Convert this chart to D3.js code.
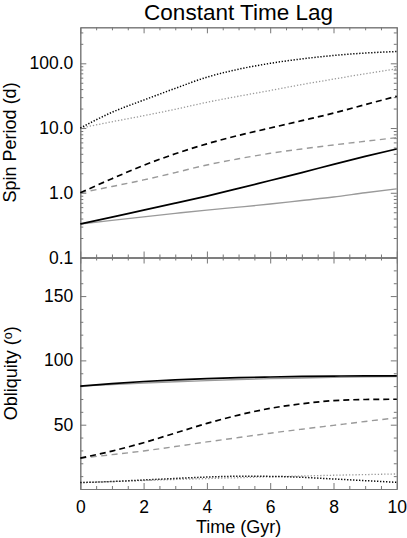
<!DOCTYPE html>
<html>
<head>
<meta charset="utf-8">
<script src="https://cdn.jsdelivr.net/npm/d3@7"></script>
<style>
  html, body { margin: 0; padding: 0; background: #fff; }
  svg text { font-family: "Liberation Sans", Arial, Helvetica, sans-serif; fill: #000; }
</style>
</head>
<body>
<svg id="chart" width="407" height="538"></svg>
<script>
// ---- data ----
const time = [0, 1, 2, 3, 4, 5, 6, 7, 8, 9, 10];

const spinBlackDotted = [10, 17.5, 27, 41, 61, 81, 100, 117, 132, 144, 152];
const spinGrayDotted  = [10, 12.5, 15.5, 19.5, 25, 31, 38, 47, 57, 69, 82];
const spinBlackDashed = [1, 1.65, 2.65, 4.0, 5.7, 7.7, 10, 13, 17, 23, 31];
const spinGrayDashed  = [1, 1.25, 1.58, 2.05, 2.69, 3.35, 4.07, 4.75, 5.48, 6.25, 7.1];
const spinBlackSolid  = [0.33, 0.42, 0.54, 0.69, 0.89, 1.17, 1.55, 2.05, 2.75, 3.65, 4.75];
const spinGraySolid   = [0.33, 0.375, 0.425, 0.48, 0.54, 0.6, 0.67, 0.76, 0.86, 1.0, 1.15];

const oblBlackSolid  = [80, 82, 83.6, 84.8, 85.8, 86.6, 87.1, 87.5, 87.8, 88, 88];
const oblGraySolid   = [80, 81.2, 82.4, 83.4, 84.3, 85.1, 85.8, 86.3, 86.8, 87.2, 87.5];
const oblBlackDashed = [24, 29.5, 36, 43.5, 51, 57.5, 62.7, 66.3, 68.7, 69.6, 69.8];
const oblGrayDashed  = [24, 26.7, 29.6, 33, 36.6, 40, 43.4, 46.5, 49.5, 52.5, 55.4];
const oblBlackDotted = [5, 5.8, 7, 8.2, 9.3, 9.9, 9.8, 9.1, 7.8, 6.5, 5.2];
const oblGrayDotted  = [5, 5.8, 6.6, 7.4, 8.1, 8.8, 9.5, 10.1, 10.7, 11.2, 11.7];

const xMajorTicks = [0, 2, 4, 6, 8, 10];
const spinMajorTicks = [0.1, 1, 10, 100];
const oblMajorTicks = [0, 50, 100, 150];
const oblLabels = [50, 100, 150];

const titleText = "Constant Time Lag";
const xTitle = "Time (Gyr)";
const spinTitle = "Spin Period (d)";

// ---- layout ----
const L = 80.3, R = 396.8, T1 = 27.3, B1 = 257.5, B2 = 489;
const svg = d3.select("#chart");

const x = d3.scaleLinear().domain([0, 10]).range([L, R]);
const ySpin = d3.scaleLog().domain([0.1, 360]).range([B1, T1]);
const yObl = d3.scaleLinear().domain([0, 180]).range([B2, B1]);

const xMinor = d3.range(0, 10.01, 0.5).filter(v => Math.abs(v % 2) > 1e-9);
const spinMinor = [];
[0.1, 1, 10, 100].forEach(d => { for (let k = 2; k <= 9; k++) { const v = d * k; if (v <= 360) spinMinor.push(v); } });
const oblMinor = d3.range(0, 181, 10).filter(v => v % 50 !== 0);

const AX = "#777";
const fs = "17.5px";
const MAJ = 6, MIN = 3;

function styleAxis(g) {
  g.selectAll("path.domain").attr("stroke", AX).attr("stroke-width", 1);
  g.selectAll(".tick line").attr("stroke", AX).attr("stroke-width", 1);
  g.selectAll(".tick text").style("font-size", fs).attr("fill", "#000")
    .style("font-family", '"Liberation Sans", Arial, Helvetica, sans-serif');
}

function addAxis(axisFn, scale, ticks, size, transform, fmt, pad) {
  const a = axisFn(scale).tickValues(ticks).tickSizeInner(-size).tickSizeOuter(0)
    .tickFormat(fmt || (() => "")).tickPadding(pad || 6);
  const g = svg.append("g").attr("transform", transform).call(a);
  styleAxis(g);
  return g;
}

// Upper panel axes
addAxis(d3.axisLeft, ySpin, spinMajorTicks, MAJ, `translate(${L},0)`, d3.format(".1f"), 7);
addAxis(d3.axisLeft, ySpin, spinMinor, MIN, `translate(${L},0)`);
addAxis(d3.axisRight, ySpin, spinMajorTicks, MAJ, `translate(${R},0)`);
addAxis(d3.axisRight, ySpin, spinMinor, MIN, `translate(${R},0)`);
addAxis(d3.axisTop, x, xMajorTicks, MAJ, `translate(0,${T1})`);
addAxis(d3.axisTop, x, xMinor, MIN, `translate(0,${T1})`);
addAxis(d3.axisBottom, x, xMajorTicks, MAJ, `translate(0,${B1})`);
addAxis(d3.axisBottom, x, xMinor, MIN, `translate(0,${B1})`);

// Lower panel axes
addAxis(d3.axisLeft, yObl, oblMajorTicks, MAJ, `translate(${L},0)`,
  d => oblLabels.includes(d) ? String(d) : "", 7);
addAxis(d3.axisLeft, yObl, oblMinor, MIN, `translate(${L},0)`);
addAxis(d3.axisRight, yObl, oblMajorTicks, MAJ, `translate(${R},0)`);
addAxis(d3.axisRight, yObl, oblMinor, MIN, `translate(${R},0)`);
addAxis(d3.axisTop, x, xMajorTicks, MAJ, `translate(0,${B1})`);
addAxis(d3.axisTop, x, xMinor, MIN, `translate(0,${B1})`);
addAxis(d3.axisBottom, x, xMajorTicks, MAJ, `translate(0,${B2})`, d3.format("d"), 12);
addAxis(d3.axisBottom, x, xMinor, MIN, `translate(0,${B2})`);

// ---- lines ----
const styles = {
  blackSolid:  { stroke: "#000", w: 1.7, dash: null },
  graySolid:   { stroke: "#9a9a9a", w: 1.4, dash: null },
  blackDashed: { stroke: "#000", w: 1.7, dash: "6,4" },
  grayDashed:  { stroke: "#9a9a9a", w: 1.4, dash: "6,4.5" },
  blackDotted: { stroke: "#000", w: 1.5, dash: "1.3,1.7" },
  grayDotted:  { stroke: "#9a9a9a", w: 1.3, dash: "1.3,1.9" }
};

function drawLine(values, yScale, st) {
  const line = d3.line().x((d, i) => x(time[i])).y(d => yScale(d)).curve(d3.curveMonotoneX);
  svg.append("path").datum(values)
    .attr("fill", "none").attr("stroke", st.stroke).attr("stroke-width", st.w)
    .attr("stroke-dasharray", st.dash).attr("d", line);
}

drawLine(spinGraySolid, ySpin, styles.graySolid);
drawLine(spinGrayDashed, ySpin, styles.grayDashed);
drawLine(spinGrayDotted, ySpin, styles.grayDotted);
drawLine(spinBlackSolid, ySpin, styles.blackSolid);
drawLine(spinBlackDashed, ySpin, styles.blackDashed);
drawLine(spinBlackDotted, ySpin, styles.blackDotted);

drawLine(oblGraySolid, yObl, styles.graySolid);
drawLine(oblGrayDashed, yObl, styles.grayDashed);
drawLine(oblGrayDotted, yObl, styles.grayDotted);
drawLine(oblBlackSolid, yObl, styles.blackSolid);
drawLine(oblBlackDashed, yObl, styles.blackDashed);
drawLine(oblBlackDotted, yObl, styles.blackDotted);

// ---- titles ----
svg.append("text").attr("x", (L + R) / 2).attr("y", 19.5)
  .attr("text-anchor", "middle").style("font-size", "22.5px").text(titleText);

svg.append("text").attr("x", (L + R) / 2).attr("y", 533)
  .attr("text-anchor", "middle").style("font-size", "18px").text(xTitle);

svg.append("text")
  .attr("transform", `translate(16,${(T1 + B1) / 2}) rotate(-90)`)
  .attr("text-anchor", "middle").style("font-size", "18px").text(spinTitle);

const ot = svg.append("text")
  .attr("transform", `translate(17,${(B1 + B2) / 2}) rotate(-90)`)
  .attr("text-anchor", "middle").style("font-size", "18px");
ot.append("tspan").text("Obliquity (");
ot.append("tspan").attr("dy", "-0.4em").style("font-size", "12.5px").text("o");
ot.append("tspan").attr("dy", "0.28em").text(")");
</script>
</body>
</html>
